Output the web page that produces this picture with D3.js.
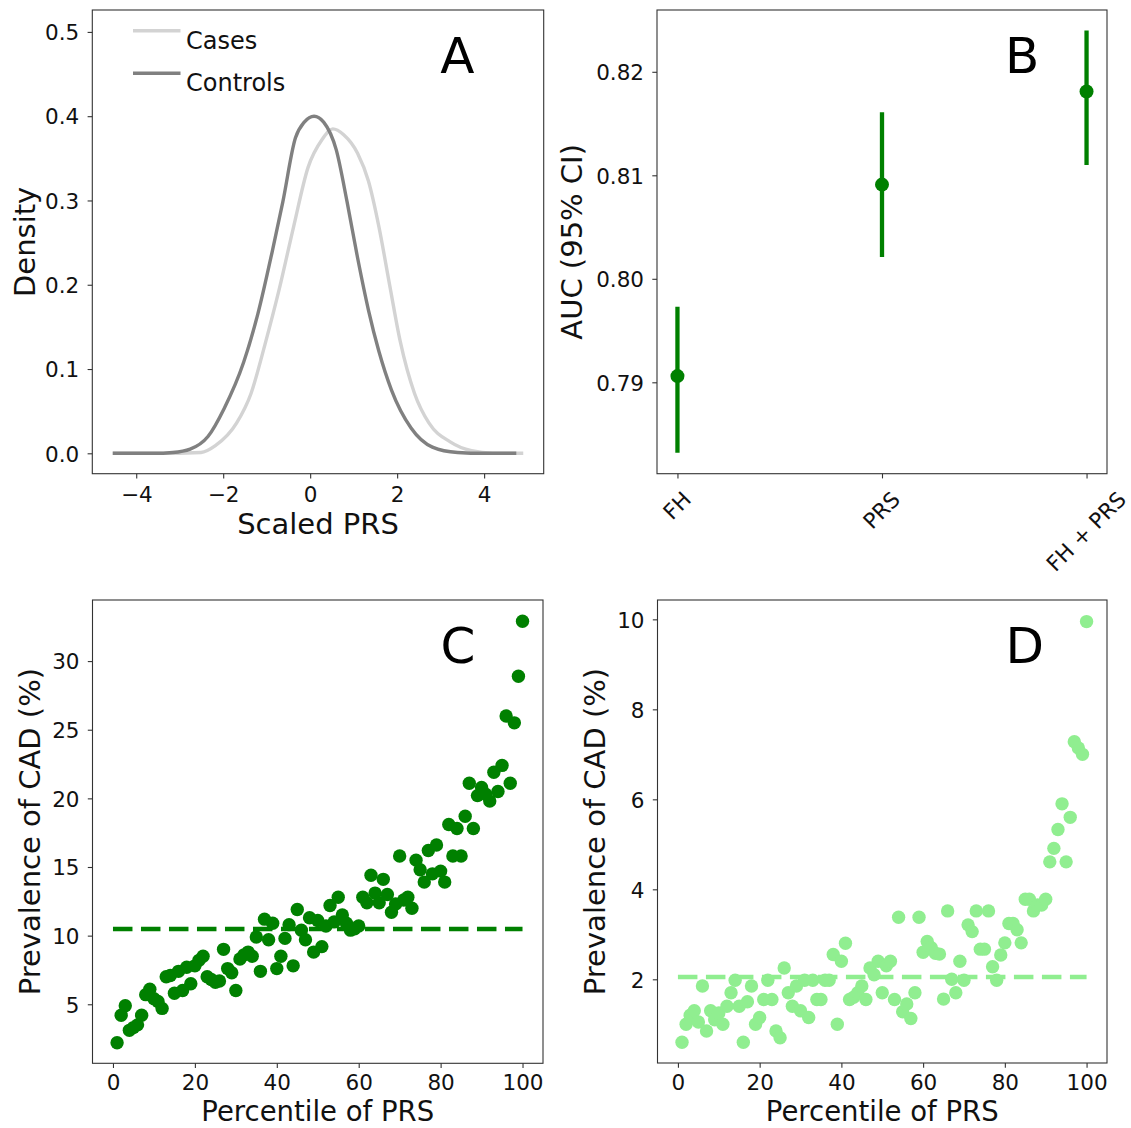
<!DOCTYPE html>
<html lang="en">
<head>
<meta charset="UTF-8">
<title>PRS panels</title>
<style>
body { margin: 0; background: #fff; }
svg text { font-family: "DejaVu Sans", sans-serif; fill: #111; }
.axis line { stroke: #333; stroke-width: 1.1px; }
.axis text { font-size: 21.5px; fill: #111; }
.frame { fill: none; stroke: #333; stroke-width: 1.1px; }
.label { font-size: 29px; }
.letter { font-size: 50px; fill: #000; }
.legend text { font-size: 24px; }
</style>
</head>
<body>
<div id="chart"></div>
<script src="https://cdnjs.cloudflare.com/ajax/libs/d3/7.8.5/d3.min.js"></script>
<script>

// panel A: density of scaled PRS
let controlsX = [-4.54, -3.6, -3.16, -2.76, -2.35, -1.98, -1.53, -1.2, -0.87, -0.63, -0.34, -0.135, 0.09, 0.31, 0.6, 0.85, 1.09, 1.34, 1.58, 1.87, 2.32, 2.81, 3.39, 4.0, 4.74];
let controlsDensity = [0, 0, 0.001, 0.005, 0.02, 0.053, 0.108, 0.166, 0.24, 0.298, 0.374, 0.393, 0.4, 0.393, 0.36, 0.298, 0.232, 0.17, 0.121, 0.075, 0.03, 0.0074, 0.001, 0, 0];
let casesX = [-4.54, -3.5, -2.51, -2.18, -1.69, -1.36, -1.04, -0.71, -0.38, -0.05, 0.27, 0.52, 0.77, 1.09, 1.34, 1.58, 1.83, 2.07, 2.4, 2.73, 3.22, 3.71, 4.2, 4.9];
let casesDensity = [0, 0, 0.001, 0.009, 0.036, 0.071, 0.129, 0.195, 0.269, 0.339, 0.372, 0.385, 0.378, 0.356, 0.323, 0.269, 0.199, 0.133, 0.071, 0.036, 0.0136, 0.003, 0, 0];

// panel B: AUC with 95% CI
let models = ["FH", "PRS", "FH + PRS"];
let aucMean = [0.7906, 0.8091, 0.8181];
let aucLow = [0.7832, 0.8021, 0.8110];
let aucHigh = [0.7973, 0.8161, 0.8240];

// panels C and D: prevalence per PRS percentile
let percentiles = d3.range(1, 101);
let prevalenceC = [
  2.2, 4.2, 4.9, 3.1, 3.3, 3.5, 4.2, 5.7, 6.1, 5.4,
  5.2, 4.7, 7.0, 7.1, 5.8, 7.4, 6.0, 7.7, 6.5, 7.8,
  8.2, 8.5, 7.0, 6.8, 6.6, 6.7, 9.0, 7.6, 7.3, 6.0,
  8.3, 8.6, 8.8, 8.5, 9.9, 7.4, 11.2, 9.7, 10.9, 7.6,
  8.5, 9.8, 10.8, 7.8, 11.9, 10.4, 9.7, 11.3, 8.8, 11.1,
  9.2, 10.7, 12.2, 11.0, 12.8, 11.5, 10.9, 10.4, 10.5, 10.7,
  12.8, 12.4, 14.4, 13.1, 12.4, 14.1, 13.0, 11.7, 12.3, 15.8,
  12.6, 12.8, 12.0, 15.5, 14.8, 13.9, 16.2, 14.5, 16.6, 14.7,
  13.9, 18.1, 15.8, 17.8, 15.8, 18.7, 21.1, 17.8, 20.2, 20.8,
  20.3, 19.8, 21.9, 20.5, 22.4, 26.0, 21.1, 25.5, 28.9, 32.9
];
let prevalenceD = [
  0.6, 1.0, 1.2, 1.3, 1.05, 1.85, 0.85, 1.3, 1.1, 1.25,
  1.0, 1.4, 1.7, 1.98, 1.4, 0.6, 1.5, 1.85, 1.0, 1.15,
  1.55, 1.98, 1.55, 0.85, 0.7, 2.25, 1.7, 1.4, 1.85, 1.3,
  1.98, 1.15, 1.98, 1.55, 1.55, 1.98, 1.98, 2.55, 1.0, 2.4,
  2.8, 1.55, 1.6, 1.7, 1.85, 1.55, 2.25, 2.1, 2.4, 1.7,
  2.3, 2.4, 1.55, 3.38, 1.28, 1.45, 1.13, 1.7, 3.38, 2.6,
  2.84, 2.7, 2.58, 2.56, 1.56, 3.52, 2.0, 1.7, 2.4, 1.98,
  3.21, 3.06, 3.52, 2.67, 2.67, 3.52, 2.28, 1.98, 2.54, 2.81,
  3.24, 3.24, 3.1, 2.81, 3.78, 3.78, 3.52, 3.65, 3.65, 3.78,
  4.61, 4.91, 5.33, 5.9, 4.61, 5.6, 7.28, 7.14, 7.0, 9.95
];
let baselineC = 10.48;
let baselineD = 2.05;

let svg = d3.select('#chart').append('svg')
    .attr('width', 1131)
    .attr('height', 1128);

let boxes = {
    A: { l: 92.3, t: 10, r: 543.7, b: 473.7 },
    B: { l: 657, t: 10, r: 1107, b: 473.7 },
    C: { l: 92.5, t: 600, r: 543, b: 1063.3 },
    D: { l: 657.5, t: 600, r: 1107, b: 1063 }
};

function drawPanel(box, x, y, o) {
    let g = svg.append('g');
    let xAxis = d3.axisBottom(x).tickValues(o.xTicks).tickSizeOuter(0).tickSize(4.7).tickPadding(o.xPad || 10.5);
    if (o.xFmt) xAxis.tickFormat(o.xFmt);
    let yAxis = d3.axisLeft(y).tickValues(o.yTicks).tickFormat(o.yFmt).tickSizeOuter(0).tickSize(4.7).tickPadding(8.3);
    let gx = g.append('g').attr('class', 'axis')
        .attr('transform', 'translate(0,' + box.b + ')')
        .call(xAxis);
    gx.select('.domain').remove();
    let gy = g.append('g').attr('class', 'axis')
        .attr('transform', 'translate(' + box.l + ',0)')
        .call(yAxis);
    gy.select('.domain').remove();
    gy.selectAll('text').attr('dy', '0.36em');
    g.append('rect').attr('class', 'frame')
        .attr('x', box.l).attr('y', box.t)
        .attr('width', box.r - box.l).attr('height', box.b - box.t);
    if (o.xLabel) {
        g.append('text').attr('class', 'label')
            .attr('x', (box.l + box.r) / 2).attr('y', box.b + o.xLabelDy)
            .attr('text-anchor', 'middle')
            .style('font-size', o.xLabelSize || null)
            .text(o.xLabel);
    }
    g.append('text').attr('class', 'label')
        .attr('transform', 'translate(' + o.yLabelX + ',' + (box.t + box.b) / 2 + ') rotate(-90)')
        .attr('text-anchor', 'middle')
        .text(o.yLabel);
    g.append('text').attr('class', 'letter')
        .attr('x', box.l + 348).attr('y', box.t + 62.5)
        .text(o.letter);
    return { g: g, gx: gx };
}

// ---- A ----
let xA = d3.scaleLinear().domain([-5.01, 5.37]).range([boxes.A.l, boxes.A.r]);
let yA = d3.scaleLinear().domain([-0.0242, 0.526]).range([boxes.A.b, boxes.A.t]);
drawPanel(boxes.A, xA, yA, {
    xTicks: [-4, -2, 0, 2, 4], xPad: 8, yTicks: [0, 0.1, 0.2, 0.3, 0.4, 0.5],
    yFmt: d3.format('.1f'), xLabel: 'Scaled PRS', xLabelDy: 60.5,
    yLabel: 'Density', yLabelX: 35, letter: 'A'
});
let lineA = d3.line().x(d => xA(d[0])).y(d => yA(d[1])).curve(d3.curveMonotoneX);
svg.append('path')
    .attr('d', lineA(d3.zip(casesX, casesDensity)))
    .attr('fill', 'none').attr('stroke', 'lightgray').attr('stroke-width', 3.4);
svg.append('path')
    .attr('d', lineA(d3.zip(controlsX, controlsDensity)))
    .attr('fill', 'none').attr('stroke', 'gray').attr('stroke-width', 3.4);

let legend = svg.append('g').attr('class', 'legend');
[['Cases', 'lightgray'], ['Controls', 'gray']].forEach((s, i) => {
    let ly = 30.8 + i * 42.4;
    legend.append('line')
        .attr('x1', 133).attr('x2', 180.5).attr('y1', ly).attr('y2', ly)
        .attr('stroke', s[1]).attr('stroke-width', 3.4);
    legend.append('text').attr('x', 186).attr('y', ly + 17.8).text(s[0]);
});

// ---- B ----
let xB = d3.scaleLinear().domain([-0.1, 2.1]).range([boxes.B.l, boxes.B.r]);
let yB = d3.scaleLinear().domain([0.78117, 0.82597]).range([boxes.B.b, boxes.B.t]);
let pB = drawPanel(boxes.B, xB, yB, {
    xTicks: [0, 1, 2], xFmt: i => models[i], yTicks: [0.79, 0.80, 0.81, 0.82],
    yFmt: d3.format('.2f'), yLabel: 'AUC (95% CI)', yLabelX: 582, letter: 'B'
});
// rotated category labels
pB.gx.selectAll('.tick text').each(function () {
    let t = d3.select(this);
    let w = this.getComputedTextLength();
    let h = 21.5 * 1.16;
    let cy = 13 + (w + h) * 0.7071 / 2;
    t.attr('y', 0).attr('dy', '0.35em').attr('text-anchor', 'middle')
        .attr('transform', 'translate(-1,' + cy + ') rotate(-45)');
});
svg.append('g').selectAll('line')
    .data(models)
    .join('line')
    .attr('x1', (d, i) => xB(i)).attr('x2', (d, i) => xB(i))
    .attr('y1', (d, i) => yB(aucLow[i])).attr('y2', (d, i) => yB(aucHigh[i]))
    .attr('stroke', 'green').attr('stroke-width', 4.3);
svg.append('g').selectAll('circle')
    .data(models)
    .join('circle')
    .attr('cx', (d, i) => xB(i)).attr('cy', (d, i) => yB(aucMean[i]))
    .attr('r', 7).attr('fill', 'green');

// ---- C and D ----
function scatterPanel(box, values, baseline, yDomain, yTicks, color, letter, yLabelX) {
    let x = d3.scaleLinear().domain([-5, 105]).range([box.l, box.r]);
    let y = d3.scaleLinear().domain(yDomain).range([box.b, box.t]);
    drawPanel(box, x, y, {
        xTicks: [0, 20, 40, 60, 80, 100], xPad: 7, yTicks: yTicks, yFmt: d3.format('d'),
        xLabel: 'Percentile of PRS', xLabelDy: 1121 - box.b, xLabelSize: '27.5px',
        yLabel: 'Prevalence of CAD (%)', yLabelX: yLabelX, letter: letter
    });
    svg.append('line')
        .attr('x1', x(0)).attr('x2', x(100))
        .attr('y1', y(baseline)).attr('y2', y(baseline))
        .attr('stroke', color).attr('stroke-width', 4.6)
        .attr('stroke-dasharray', '19.5,8.5');
    svg.append('g').selectAll('circle')
        .data(percentiles)
        .join('circle')
        .attr('cx', d => x(d))
        .attr('cy', (d, i) => y(values[i]))
        .attr('r', 6.7)
        .attr('fill', color);
}

scatterPanel(boxes.C, prevalenceC, baselineC, [0.7, 34.45], [5, 10, 15, 20, 25, 30], 'green', 'C', 40);
scatterPanel(boxes.D, prevalenceD, baselineD, [0.14, 10.43], [2, 4, 6, 8, 10], 'lightgreen', 'D', 605);

</script>
</body>
</html>
